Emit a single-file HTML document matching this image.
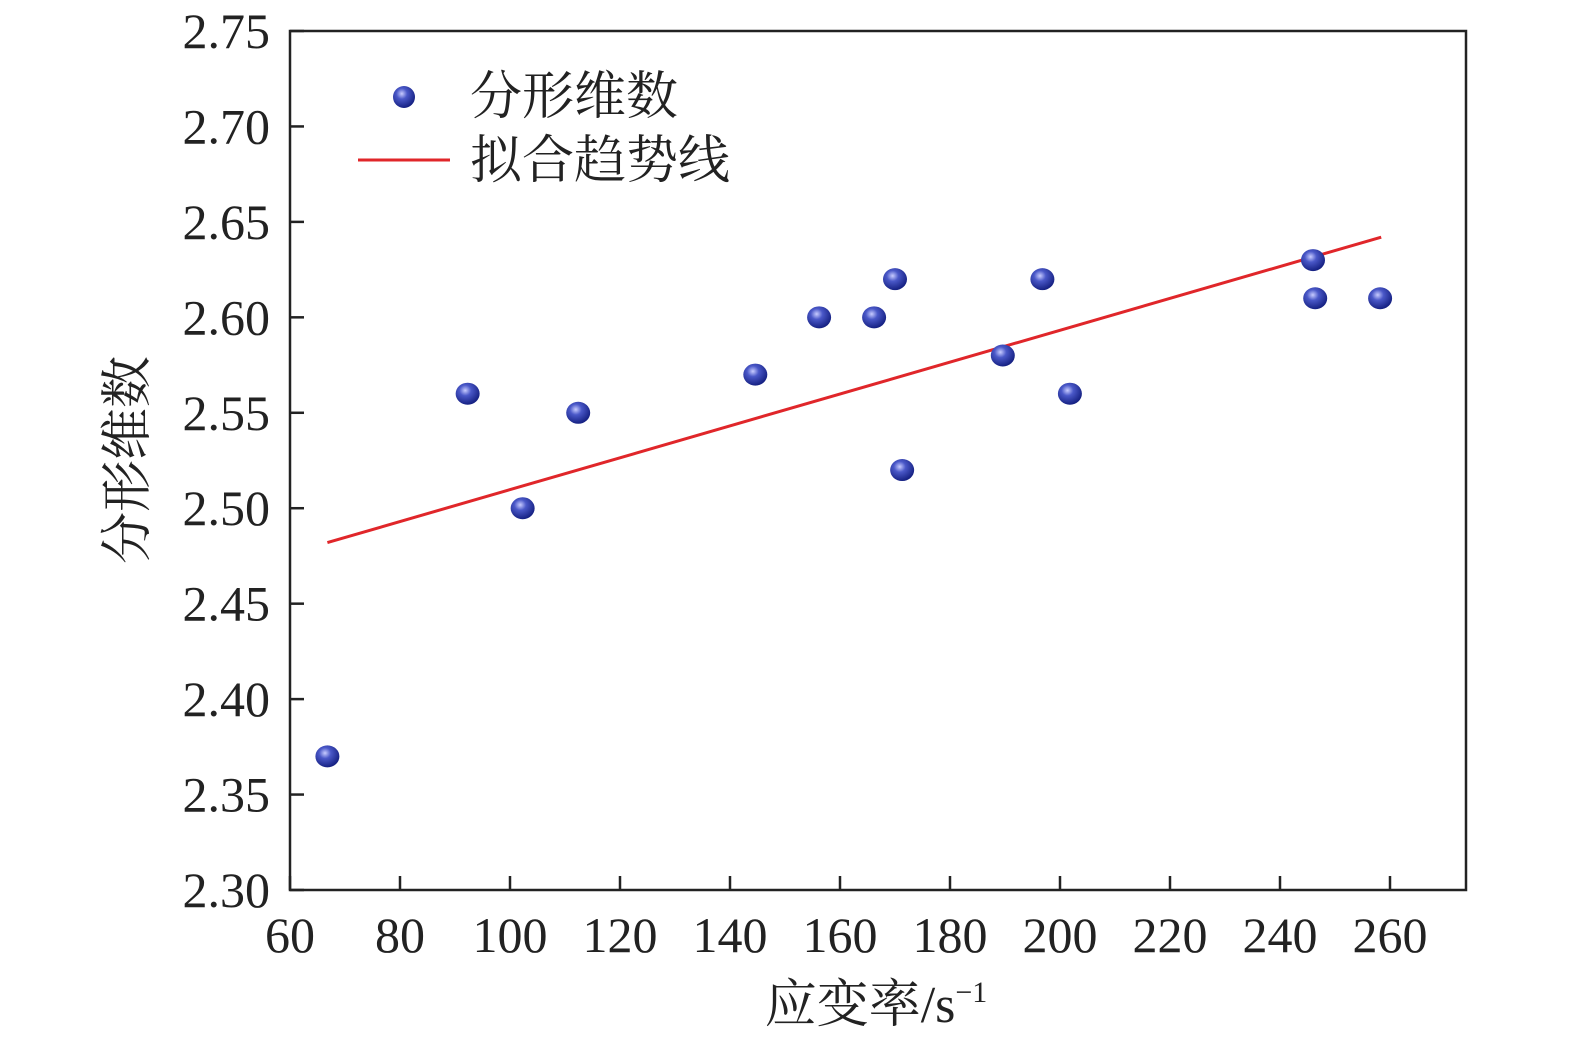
<!DOCTYPE html>
<html><head><meta charset="utf-8"><style>
body{margin:0;background:#fff}
svg{display:block}
text{font-family:"Liberation Serif","Noto Serif CJK SC",serif;fill:#222}
</style></head><body>
<svg width="1575" height="1043" viewBox="0 0 1575 1043">
<defs><radialGradient id="ball" cx="0.4" cy="0.35" r="0.7">
<stop offset="0" stop-color="#c8ccff"/><stop offset="0.35" stop-color="#4a58c8"/><stop offset="1" stop-color="#0f1a7a"/></radialGradient></defs>
<g id="axes"></g>
<g id="marks"></g>
<g>
<circle cx="404" cy="97" r="11" fill="url(#ball)"/>
<text x="470" y="114" font-size="52">分形维数</text>
<line x1="358" y1="160" x2="450" y2="160" stroke="#e0262a" stroke-width="3"/>
<text x="470" y="178" font-size="52">拟合趋势线</text>
</g>
<text x="876" y="1022" font-size="52" text-anchor="middle">应变率/s<tspan font-size="30" dy="-20">−1</tspan></text>
<text transform="translate(145,460) rotate(-90)" font-size="52" text-anchor="middle">分形维数</text>
</svg>
<script>
const xs=[66.8,92.3,102.3,112.4,144.6,156.2,166.2,170,171.3,189.6,196.8,201.8,246,246.4,258.2];
const ys=[2.37,2.56,2.50,2.55,2.57,2.60,2.60,2.62,2.52,2.58,2.62,2.56,2.63,2.61,2.61];
const fitX=[66.8,258.4];
const fitY=[2.482,2.642];
const xTicks=[60,80,100,120,140,160,180,200,220,240,260];
const yTicks=[2.30,2.35,2.40,2.45,2.50,2.55,2.60,2.65,2.70,2.75];
const L=290,R=1466,T=31,B=890;
const X=v=>L+(v-60)*5.5;
const Y=v=>B-(v-2.30)*(B-T)/0.45;
const NS='http://www.w3.org/2000/svg';
function mk(tag,attrs,parent){const e=document.createElementNS(NS,tag);for(const k in attrs)e.setAttribute(k,attrs[k]);parent.appendChild(e);return e;}
const ax=document.getElementById('axes');
const fr=mk('rect',{x:L,y:T,width:R-L,height:B-T,fill:'none',stroke:'#222','stroke-width':2.5},ax);


xTicks.forEach(t=>{
 const l=mk('line',{x1:X(t),x2:X(t),y1:B,y2:B-14,stroke:'#222','stroke-width':2.5},ax);
 
 
 const tx=mk('text',{x:X(t),y:B+62,'font-size':50,'text-anchor':'middle'},ax);tx.textContent=t;
 
 
});
yTicks.forEach(t=>{
 const l=mk('line',{x1:L,x2:L+14,y1:Y(t),y2:Y(t),stroke:'#222','stroke-width':2.5},ax);
 
 
 const tx=mk('text',{x:L-20,y:Y(t)+17,'font-size':50,'text-anchor':'end'},ax);tx.textContent=t.toFixed(2);
 
 
});
const mg=document.getElementById('marks');
const fl=mk('line',{x1:X(fitX[0]),y1:Y(fitY[0]),x2:X(fitX[1]),y2:Y(fitY[1]),stroke:'#e0262a','stroke-width':3},mg);


xs.forEach((v,i)=>{
 const c=mk('ellipse',{cx:X(v),cy:Y(ys[i]),rx:12,ry:11,fill:'url(#ball)'},mg);
 
 
});
</script>
</body></html>
